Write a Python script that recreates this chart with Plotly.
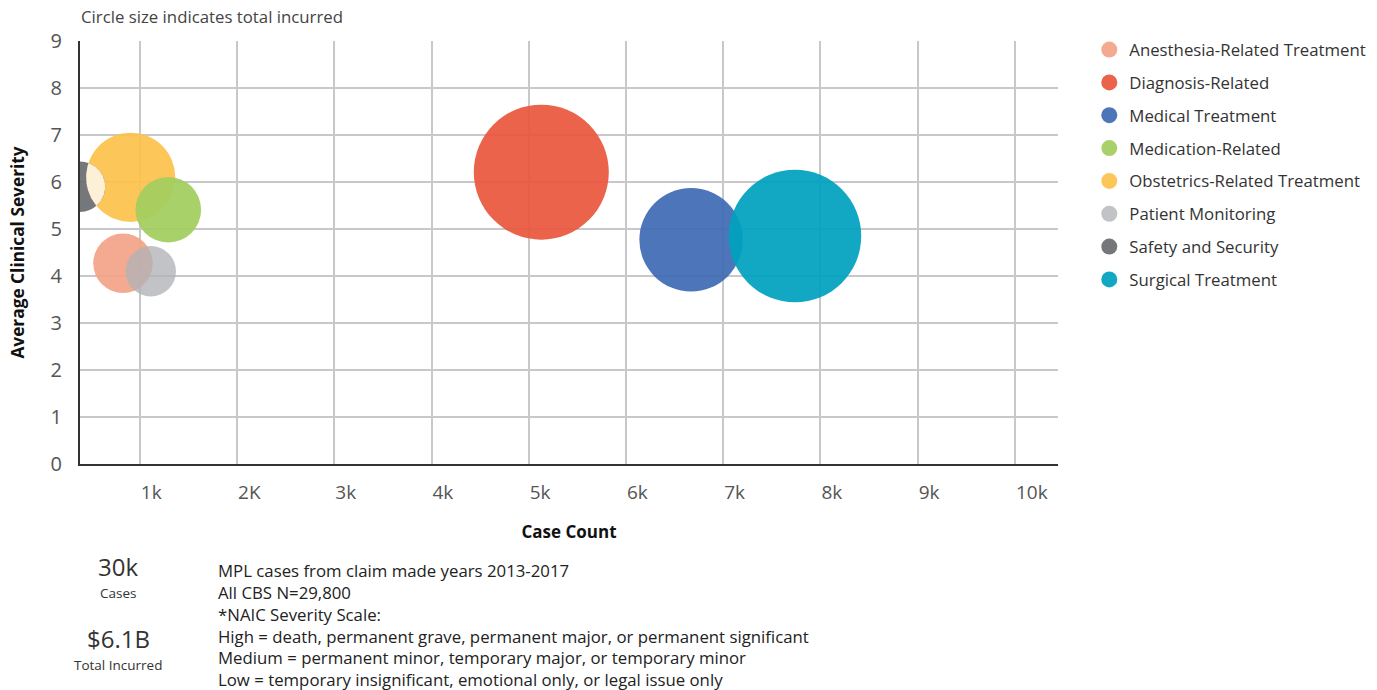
import math
import plotly.graph_objects as go

# ---------------- data ----------------
categories = [
    "Anesthesia-Related Treatment",
    "Diagnosis-Related",
    "Medical Treatment",
    "Medication-Related",
    "Obstetrics-Related Treatment",
    "Patient Monitoring",
    "Safety and Security",
    "Surgical Treatment",
]
case_count = [827, 5129, 6670, 1293, 906, 1113, 385, 7738]
avg_severity = [4.27, 6.21, 4.77, 5.41, 6.10, 4.10, 5.90, 4.85]
total_incurred_m = [320, 1650, 970, 390, 720, 230, 230, 1590]  # $M, circle area

x_tick_vals = [1000, 2000, 3000, 4000, 5000, 6000, 7000, 8000, 9000, 10000]
x_tick_text = ["1k", "2K", "3k", "4k", "5k", "6k", "7k", "8k", "9k", "10k"]
y_tick_vals = [0, 1, 2, 3, 4, 5, 6, 7, 8, 9]

# ---------------- style ----------------
colors = {
    "Anesthesia-Related Treatment": "#F3A488",
    "Diagnosis-Related": "#E8573C",
    "Medical Treatment": "#3E6CB4",
    "Medication-Related": "#A2CD5F",
    "Obstetrics-Related Treatment": "#FDC24C",
    "Patient Monitoring": "#B1B2B6",
    "Safety and Security": "#6C6D70",
    "Surgical Treatment": "#00A1C0",
}
opac = {"Patient Monitoring": 0.78}
draw_order = [
    "Obstetrics-Related Treatment", "Medication-Related",
    "Anesthesia-Related Treatment", "Patient Monitoring",
    "Safety and Security", "Medical Treatment", "Surgical Treatment",
    "Diagnosis-Related",
]

W, H = 1377, 690
ML, MR, MT, MB = 80, 319, 41, 226
PW, PH = W - ML - MR, H - MT - MB
XR = [385, 10443]
YR = [0, 9]
MAX_R = 67.5
sizeref = max(total_incurred_m) / (2 * MAX_R ** 2)

FONT = "Open Sans, Lato, sans-serif"

fig = go.Figure()
for name in draw_order:
    i = categories.index(name)
    fig.add_trace(go.Scatter(
        x=[case_count[i]], y=[avg_severity[i]], name=name, mode="markers",
        legendrank=i + 1, legendgroup=name,
        marker=dict(size=[total_incurred_m[i]], sizemode="area", sizeref=sizeref,
                    color=colors[name], opacity=opac.get(name, 0.93),
                    line=dict(width=0)),
        hovertemplate="%{x}, %{y}<extra>" + name + "</extra>",
    ))

# light lens where Safety and Security overlaps Obstetrics (computed from data)
def to_px(x, y):
    return (ML + (x - XR[0]) / (XR[1] - XR[0]) * PW,
            MT + (YR[1] - y) / (YR[1] - YR[0]) * PH)

def to_data(px, py):
    return (XR[0] + (px - ML) / PW * (XR[1] - XR[0]),
            YR[1] - (py - MT) / PH * (YR[1] - YR[0]))

def radius(i):
    return math.sqrt(total_incurred_m[i] / 2 / sizeref)

a = categories.index("Safety and Security")
b = categories.index("Obstetrics-Related Treatment")
ax_, ay_ = to_px(case_count[a], avg_severity[a]); ra = radius(a)
bx_, by_ = to_px(case_count[b], avg_severity[b]); rb = radius(b)
pts = []
for k in range(720):
    t = 2 * math.pi * k / 720
    px, py = ax_ + ra * math.cos(t), ay_ + ra * math.sin(t)
    if (px - bx_) ** 2 + (py - by_) ** 2 <= rb ** 2:
        pts.append((px, py))
    px, py = bx_ + rb * math.cos(t), by_ + rb * math.sin(t)
    if (px - ax_) ** 2 + (py - ay_) ** 2 <= ra ** 2:
        pts.append((px, py))
if pts:
    cx = sum(p[0] for p in pts) / len(pts)
    cy = sum(p[1] for p in pts) / len(pts)
    pts.sort(key=lambda p: math.atan2(p[1] - cy, p[0] - cx))
    pts.append(pts[0])
    dxs, dys = zip(*[to_data(p[0], p[1]) for p in pts])
    fig.add_trace(go.Scatter(x=list(dxs), y=list(dys), mode="lines", fill="toself",
                             fillcolor="#FDF0D6", line=dict(width=0),
                             showlegend=False, hoverinfo="skip"))

def paper_x(px):
    return (px - ML) / PW

def paper_y(py):
    return (MT + PH - py) / PH

annos = [
    dict(text="Circle size indicates total incurred", x=paper_x(79), y=paper_y(17),
         xanchor="left", yanchor="middle", font=dict(size=16.8, color="#444")),
    dict(text="30k", x=paper_x(118), y=paper_y(584), xanchor="center", yanchor="bottom",
         borderpad=0, font=dict(size=24, color="#333")),
    dict(text="Cases", x=paper_x(118), y=paper_y(583), xanchor="center", yanchor="top",
         borderpad=0, font=dict(size=13.5, color="#333")),
    dict(text="$6.1B", x=paper_x(118), y=paper_y(656), xanchor="center", yanchor="bottom",
         borderpad=0, font=dict(size=24, color="#333")),
    dict(text="Total Incurred", x=paper_x(118), y=paper_y(655), xanchor="center", yanchor="top",
         borderpad=0, font=dict(size=13.5, color="#333")),
    dict(text=("MPL cases from claim made years 2013-2017<br>"
               "All CBS N=29,800<br>"
               "*NAIC Severity Scale:<br>"
               "High = death, permanent grave, permanent major, or permanent significant<br>"
               "Medium = permanent minor, temporary major, or temporary minor<br>"
               "Low = temporary insignificant, emotional only, or legal issue only"),
         x=paper_x(216), y=paper_y(557), xanchor="left", yanchor="top", align="left",
         font=dict(size=16.8, color="#222")),
]
for an in annos:
    an.update(xref="paper", yref="paper", showarrow=False)

fig.update_layout(
    width=W, height=H,
    margin=dict(l=ML, r=MR, t=MT, b=MB, autoexpand=False),
    paper_bgcolor="white", plot_bgcolor="white",
    font=dict(family=FONT, color="#333"),
    showlegend=True,
    legend=dict(x=1.032, y=1.021, xanchor="left", yanchor="top",
                font=dict(size=16.8, color="#333"), tracegroupgap=8,
                traceorder="grouped", bgcolor="rgba(0,0,0,0)"),
    annotations=annos,
    xaxis=dict(range=XR, tickvals=x_tick_vals, ticktext=x_tick_text,
               ticklabelposition="outside right", ticklabelstandoff=10,
               tickfont=dict(size=19, color="#555"),
               showgrid=True, gridcolor="#C8C8CA", gridwidth=1.5, zeroline=False,
               showline=True, linecolor="#333", linewidth=2,
               title=dict(text="<b>Case Count</b>", standoff=22,
                          font=dict(size=17, color="#111")),
               automargin=False, fixedrange=True),
    yaxis=dict(range=YR, tickvals=y_tick_vals,
               ticklabelstandoff=12, tickfont=dict(size=20, color="#555"),
               showgrid=True, gridcolor="#C8C8CA", gridwidth=1.5, zeroline=False,
               showline=True, linecolor="#333", linewidth=2,
               title=dict(text="<b>Average Clinical Severity</b>", standoff=22,
                          font=dict(size=17.3, color="#111")),
               automargin=False, fixedrange=True),
)

fig.write_html("out.html")
